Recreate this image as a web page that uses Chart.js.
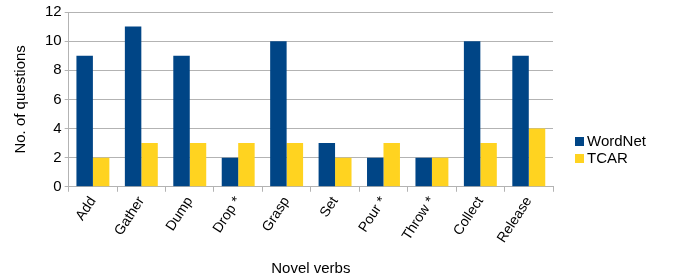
<!DOCTYPE html>
<html>
<head>
<meta charset="utf-8">
<script src="https://cdn.jsdelivr.net/npm/chart.js@4"></script>
<style>
  html, body { margin: 0; padding: 0; background: #fff; }
  #wrap { width: 676px; height: 280px; }
</style>
</head>
<body>
<div id="wrap"><canvas id="verbChart"></canvas></div>
<script>
const verbs = ['Add', 'Gather', 'Dump', 'Drop *', 'Grasp', 'Set', 'Pour *', 'Throw *', 'Collect', 'Release'];
const wordnetCounts = [9, 11, 9, 2, 10, 3, 2, 2, 10, 9];
const tcarCounts = [2, 3, 3, 3, 3, 2, 3, 2, 3, 4];
const yTicks = [0, 2, 4, 6, 8, 10, 12];

const FONT = "'Liberation Sans', Arial, sans-serif";

// legend drawn by hand so it can sit where the original one does
const sideLegend = {
    id: 'sideLegend',
    afterDraw(chart) {
        const c = chart.ctx;
        const x = chart.chartArea.right + 22;
        let y = 141;
        c.save();
        c.font = '15px ' + FONT;
        c.textBaseline = 'middle';
        chart.data.datasets.forEach(ds => {
            c.fillStyle = ds.backgroundColor;
            c.fillRect(x, y - 4, 9, 9);
            c.fillStyle = '#000';
            c.fillText(ds.label, x + 12, y + 1);
            y += 17;
        });
        c.restore();
    }
};

function initVerbChart() {
    const ctx = document.getElementById('verbChart').getContext('2d');

    new Chart(ctx, {
        type: 'bar',
        data: {
            labels: verbs,
            datasets: [{
                label: 'WordNet',
                data: wordnetCounts,
                backgroundColor: '#004586'
            }, {
                label: 'TCAR',
                data: tcarCounts,
                backgroundColor: '#ffd320'
            }]
        },
        options: {
            responsive: true,
            maintainAspectRatio: false,
            animation: false,
            layout: { padding: { top: 3, right: 123, left: 12, bottom: 2 } },
            datasets: {
                bar: { categoryPercentage: 0.68, barPercentage: 1.0 }
            },
            plugins: {
                legend: { display: false },
                tooltip: { enabled: false }
            },
            scales: {
                x: {
                    grid: {
                        offset: true,
                        color: c => c.index === verbs.length ? '#b3b3b3' : 'rgba(0,0,0,0)',
                        tickColor: '#b3b3b3',
                        tickLength: 5
                    },
                    border: { color: '#b3b3b3' },
                    ticks: {
                        color: '#000',
                        font: { family: FONT, size: 14 },
                        minRotation: 57,
                        maxRotation: 57,
                        padding: 2
                    },
                    title: {
                        display: true,
                        text: 'Novel verbs',
                        color: '#000',
                        font: { family: FONT, size: 15 },
                        padding: { top: 12, bottom: 0 }
                    }
                },
                y: {
                    min: 0,
                    max: 12,
                    afterBuildTicks: axis => {
                        axis.ticks = yTicks.map(v => ({ value: v }));
                    },
                    grid: {
                        color: '#b3b3b3',
                        tickLength: 4
                    },
                    border: { color: '#b3b3b3' },
                    ticks: {
                        color: '#000',
                        font: { family: FONT, size: 15 },
                        padding: 3
                    },
                    title: {
                        display: true,
                        text: 'No. of questions',
                        color: '#000',
                        font: { family: FONT, size: 15 },
                        padding: { top: 0, bottom: 12 }
                    }
                }
            }
        },
        plugins: [sideLegend]
    });
}

document.addEventListener('DOMContentLoaded', () => {
    initVerbChart();
});
</script>
</body>
</html>
